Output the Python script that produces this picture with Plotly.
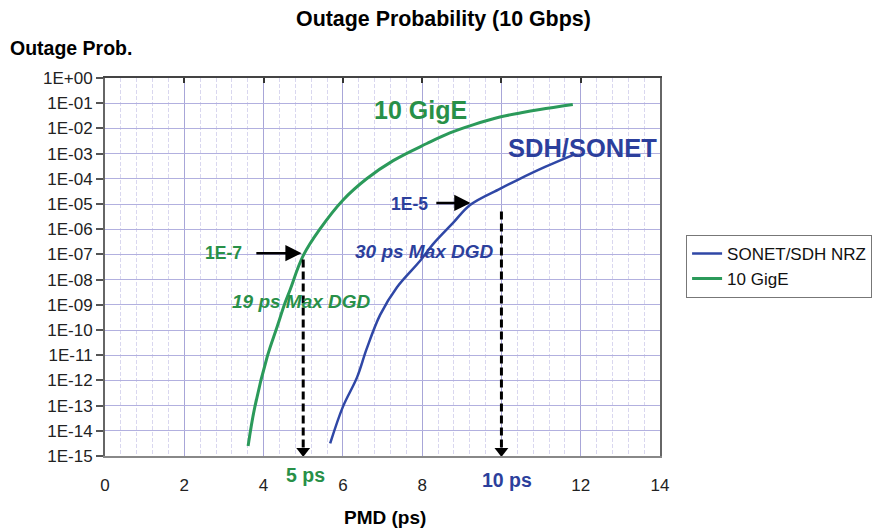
import plotly.graph_objects as go

# ---- data ----
gige_pmd = [3.61, 3.78, 4.09, 4.34, 4.54, 4.67, 5.0, 5.42, 6.0, 6.6, 7.27, 8.12, 8.7, 9.3, 9.96, 10.5, 10.97, 11.8]
gige_log = [-14.6, -13.05, -11.07, -9.88, -8.93, -8.4, -7.05, -6.0, -4.85, -4.0, -3.28, -2.6, -2.18, -1.85, -1.55, -1.38, -1.25, -1.05]

sonet_pmd = [5.68, 6.0, 6.36, 6.6, 6.94, 7.37, 7.95, 8.27, 8.78, 9.21, 9.96, 10.4, 11.1, 11.8]
sonet_log = [-14.5, -13.05, -11.87, -10.75, -9.4, -8.29, -7.25, -6.6, -5.75, -5.04, -4.4, -4.05, -3.53, -3.06]

gige_prob = [10 ** v for v in gige_log]
sonet_prob = [10 ** v for v in sonet_log]

y_exponents = list(range(0, -16, -1))
y_tickvals = [10 ** e for e in y_exponents]
y_ticktext = ["1E+00"] + ["1E-%02d" % (-e) for e in y_exponents[1:]]
x_tickvals = [0, 2, 4, 6, 8, 10, 12, 14]
x_ticktext = ["0", "2", "4", "6", "8", "", "12", "14"]  # "10" is replaced by the "10 ps" label

# dashed marker lines (PMD limits)
limit_5_x = [5, 5]
limit_5_y = [10 ** -7.2, 10 ** -14.8]
limit_10_x = [10, 10]
limit_10_y = [10 ** -5.3, 10 ** -14.8]

BLUE = "#2f47a6"
GREEN = "#2b9a5a"
BLUE_T = "#2c3f9c"
GREEN_T = "#289048"
FONT = "Liberation Sans, Arial, sans-serif"

fig = go.Figure()
fig.add_trace(go.Scatter(x=sonet_pmd, y=sonet_prob, mode="lines", name="SONET/SDH NRZ",
                         line=dict(color=BLUE, width=2.5, shape="spline", smoothing=1.0)))
fig.add_trace(go.Scatter(x=gige_pmd, y=gige_prob, mode="lines", name="10 GigE",
                         line=dict(color=GREEN, width=3, shape="spline", smoothing=1.1)))
for xs, ys in [(limit_5_x, limit_5_y), (limit_10_x, limit_10_y)]:
    fig.add_trace(go.Scatter(x=xs, y=ys, mode="lines", showlegend=False, hoverinfo="skip",
                             line=dict(color="black", width=3, dash="8px,4px")))
    fig.add_trace(go.Scatter(x=[xs[1]], y=[ys[1]], mode="markers", showlegend=False, hoverinfo="skip",
                             marker=dict(symbol="triangle-down", size=12, color="black")))
# invisible trace to carry the top axis
fig.add_trace(go.Scatter(x=[0, 14], y=[1e-15, 1], xaxis="x2", mode="markers", showlegend=False,
                         hoverinfo="skip", marker=dict(opacity=0)))

annos = []
annos.append(dict(x=7.95, y=-1.27, text="<b>10 GigE</b>", showarrow=False,
                  font=dict(size=25, color=GREEN_T, family=FONT)))
annos.append(dict(x=12.05, y=-2.78, text="<b>SDH/SONET</b>", showarrow=False,
                  font=dict(size=25.5, color=BLUE_T, family=FONT)))
annos.append(dict(x=8.05, y=-6.9, text="<b><i>30 ps Max DGD</i></b>", showarrow=False,
                  font=dict(size=19, color=BLUE_T, family=FONT)))
annos.append(dict(x=4.95, y=-8.85, text="<b><i>19 ps Max DGD</i></b>", showarrow=False,
                  font=dict(size=19, color=GREEN_T, family=FONT)))
annos.append(dict(x=3.0, y=-6.95, text="<b>1E-7</b>", showarrow=False,
                  font=dict(size=17.5, color=GREEN_T, family=FONT)))
annos.append(dict(x=7.67, y=-5.0, text="<b>1E-5</b>", showarrow=False,
                  font=dict(size=17.5, color=BLUE_T, family=FONT)))
# arrows
annos.append(dict(x=4.96, y=-6.95, ax=3.78, ay=-6.95, axref="x", ayref="y", text="",
                  showarrow=True, arrowhead=2, arrowsize=1.3, arrowwidth=2.5, arrowcolor="black"))
annos.append(dict(x=9.22, y=-4.96, ax=8.32, ay=-4.96, axref="x", ayref="y", text="",
                  showarrow=True, arrowhead=2, arrowsize=1.3, arrowwidth=2.5, arrowcolor="black"))
# below-axis labels
annos.append(dict(x=5.05, y=-0.05, yref="paper", yanchor="middle", text="<b>5 ps</b>", showarrow=False,
                  font=dict(size=19.5, color=GREEN_T, family=FONT)))
annos.append(dict(x=10.15, y=-0.063, yref="paper", yanchor="middle", text="<b>10 ps</b>", showarrow=False,
                  font=dict(size=19.5, color=BLUE_T, family=FONT)))
# titles
annos.append(dict(x=0.61, y=1.155, xref="paper", yref="paper", xanchor="center", yanchor="middle",
                  text="<b>Outage Probability (10 Gbps)</b>",
                  showarrow=False, font=dict(size=21.4, color="black", family=FONT)))
annos.append(dict(x=-0.175, y=1.079, xref="paper", yref="paper", xanchor="left", yanchor="middle",
                  text="<b>Outage Prob.</b>", showarrow=False, font=dict(size=19.5, color="black", family=FONT)))
annos.append(dict(x=0.504, y=-0.164, xref="paper", yref="paper", xanchor="center", yanchor="middle",
                  text="<b>PMD (ps)</b>",
                  showarrow=False, font=dict(size=19, color="black", family=FONT)))

fig.update_layout(
    width=885, height=529,
    margin=dict(l=97, r=233, t=70, b=81, autoexpand=False),
    paper_bgcolor="white", plot_bgcolor="white",
    font=dict(family=FONT, size=15, color="#222"),
    annotations=annos,
    showlegend=True,
    legend=dict(x=1.047, y=0.585, xanchor="left", yanchor="top",
                bordercolor="#777", borderwidth=1, bgcolor="white",
                font=dict(size=17, color="#111", family=FONT)),
    xaxis=dict(range=[0, 14], tickvals=x_tickvals, ticktext=x_ticktext, showgrid=True,
               gridcolor="#a8a6d8", gridwidth=1, zeroline=False, showline=True, linecolor="#888",
               linewidth=2, mirror=False, tickfont=dict(size=17, color="#222"), ticks="",
               ticklabelstandoff=13,
               minor=dict(dtick=0.4, showgrid=True, gridcolor="#d9d7ef", gridwidth=1, griddash="4px,2px")),
    xaxis2=dict(overlaying="x", side="top", range=[0, 14], tickvals=x_tickvals, showticklabels=False,
                ticks="inside", ticklen=5, tickcolor="#333", tickwidth=2, showgrid=False, zeroline=False,
                showline=True, linecolor="#444", linewidth=2),
    yaxis=dict(type="log", range=[-15, 0], tickvals=y_tickvals, ticktext=y_ticktext,
               showgrid=True, gridcolor="#b2b0df", gridwidth=1, zeroline=False,
               showline=True, linecolor="#666", linewidth=2, mirror=True,
               ticks="outside", ticklen=7, tickcolor="#555", tickwidth=1.5,
               tickfont=dict(size=17, color="#222")),
)

fig.write_html("out.html")
